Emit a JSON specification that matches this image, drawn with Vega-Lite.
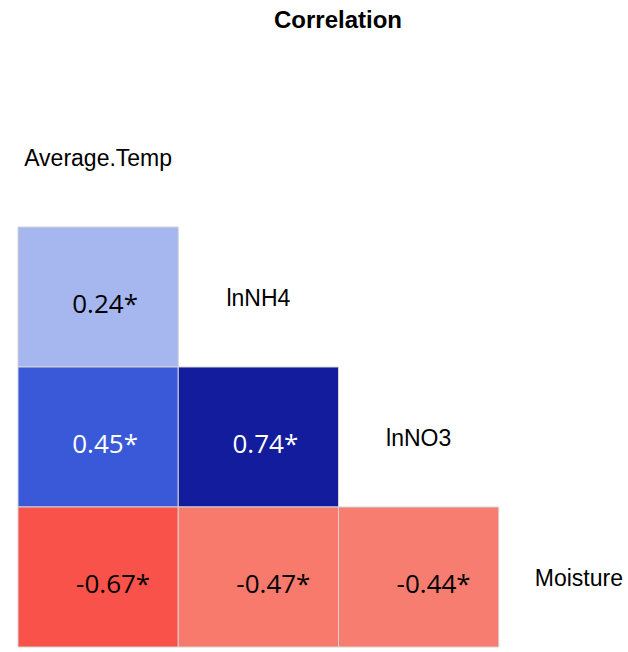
{
  "$schema": "https://vega.github.io/schema/vega-lite/v6.json",
  "autosize": {"type": "none"},
  "width": 610,
  "height": 560,
  "padding": {"left": 18, "top": 87, "right": 0, "bottom": 5},
  "background": "white",
  "title": {"text": "Correlation", "font": "Liberation Sans", "fontSize": 24, "fontWeight": "bold", "color": "#000000", "anchor": "middle", "frame": "group", "dx": 15, "offset": 42, "baseline": "middle"},
  "config": {"view": {"stroke": null}},
  "datasets": {
    "cells": [
      {"col": "Average.Temp", "row": "lnNH4", "r": 0.24, "label": "0.24*"},
      {"col": "Average.Temp", "row": "lnNO3", "r": 0.45, "label": "0.45*"},
      {"col": "Average.Temp", "row": "Moisture", "r": -0.67, "label": "-0.67*"},
      {"col": "lnNH4", "row": "lnNO3", "r": 0.74, "label": "0.74*"},
      {"col": "lnNH4", "row": "Moisture", "r": -0.47, "label": "-0.47*"},
      {"col": "lnNO3", "row": "Moisture", "r": -0.44, "label": "-0.44*"}
    ],
    "names": [
      {"col": "Average.Temp", "row": "Average.Temp", "name": "Average.Temp"},
      {"col": "lnNH4", "row": "lnNH4", "name": "lnNH4"},
      {"col": "lnNO3", "row": "lnNO3", "name": "lnNO3"},
      {"col": "Moisture", "row": "Moisture", "name": "Moisture"}
    ]
  },
  "encoding": {
    "x": {"field": "col", "type": "nominal", "axis": null, "scale": {"domain": ["Average.Temp", "lnNH4", "lnNO3", "Moisture"], "range": [0, 641], "paddingInner": 0, "paddingOuter": 0}},
    "y": {"field": "row", "type": "nominal", "axis": null, "scale": {"domain": ["Average.Temp", "lnNH4", "lnNO3", "Moisture"], "paddingInner": 0, "paddingOuter": 0}}
  },
  "layer": [
    {
      "data": {"name": "cells"},
      "mark": {"type": "rect", "stroke": "#d4d4d4", "strokeWidth": 1},
      "encoding": {
        "color": {"field": "r", "type": "quantitative", "legend": null, "scale": {"domain": [-0.67, -0.47, -0.44, 0.24, 0.45, 0.74], "range": ["#f8524a", "#f77a6c", "#f77d70", "#a6b7ef", "#3a59d8", "#121c9c"]}}
      }
    },
    {
      "data": {"name": "cells"},
      "mark": {"type": "text", "font": "Open Sans", "fontSize": 26, "dx": {"expr": "datum.r < 0 ? 15 : 7"}, "dy": 8, "baseline": "middle", "align": "center"},
      "encoding": {
        "text": {"field": "label"},
        "color": {"condition": {"test": "datum.r > 0.3", "value": "#ffffff"}, "value": "#000000"}
      }
    },
    {
      "data": {"name": "names"},
      "mark": {"type": "text", "font": "Liberation Sans", "fontSize": 23, "color": "#000000", "baseline": "middle", "align": "center", "dy": 2},
      "encoding": {"text": {"field": "name"}}
    }
  ]
}
